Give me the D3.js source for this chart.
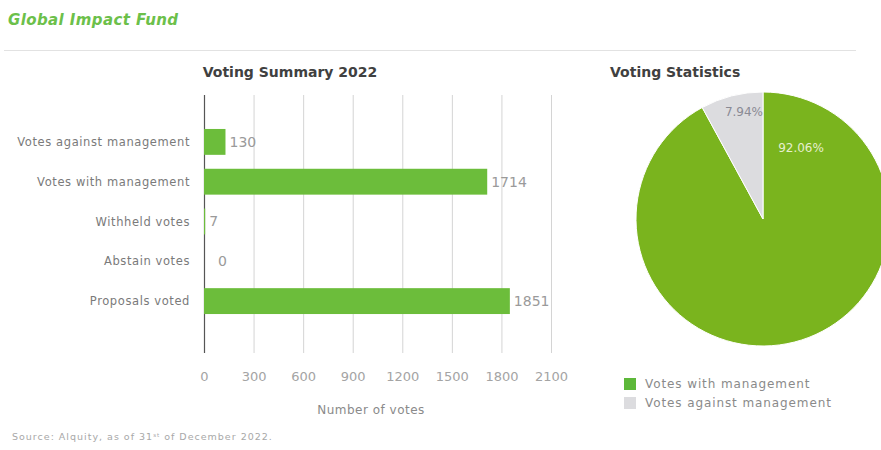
<!DOCTYPE html>
<html>
<head>
<meta charset="utf-8">
<script src="https://cdn.jsdelivr.net/npm/d3@7"></script>
<style>
  body { margin: 0; background: #fff; }
  svg { display: block; font-family: "DejaVu Sans", sans-serif; }
</style>
</head>
<body>
<script>
// data
const categories = ["Votes against management", "Votes with management", "Withheld votes", "Abstain votes", "Proposals voted"];
const votes = [130, 1714, 7, 0, 1851];
const xTicks = [0, 300, 600, 900, 1200, 1500, 1800, 2100];
const pieLabels = ["Votes with management", "Votes against management"];
const pieShares = [92.06, 7.94];

var width = 881, height = 450;
var barGreen = "#6cbd3b", pieGreen = "#7ab41e", pieGrey = "#dcdcdf";

var svg = d3.select("body").append("svg")
  .attr("width", width)
  .attr("height", height);

// header
svg.append("text")
  .attr("x", 8).attr("y", 25)
  .attr("fill", "#6cc04a")
  .attr("font-size", 15)
  .attr("font-weight", 700)
  .attr("font-style", "italic")
  .attr("letter-spacing", 0.4)
  .text("Global Impact Fund");

svg.append("line")
  .attr("x1", 4).attr("x2", 856)
  .attr("y1", 50.5).attr("y2", 50.5)
  .attr("stroke", "#e2e2e2");

// bar chart
var xScale = d3.scaleLinear().domain([0, 2100]).range([204, 551]);
var yScale = d3.scaleBand().domain(categories).range([122, 321])
  .paddingInner(0.35).paddingOuter(0.175);

svg.append("text")
  .attr("x", 290).attr("y", 77)
  .attr("text-anchor", "middle")
  .attr("fill", "#404040")
  .attr("font-size", 14)
  .attr("font-weight", 700)
  .text("Voting Summary 2022");

var grid = svg.append("g");
grid.selectAll("line")
  .data(xTicks)
  .join("line")
  .attr("x1", d => xScale(d) + 0.5).attr("x2", d => xScale(d) + 0.5)
  .attr("y1", 95).attr("y2", 353)
  .attr("stroke", d => d === 0 ? "#555" : "#d4d4d4")
  .attr("stroke-width", d => d === 0 ? 1.2 : 1);

var xAxis = d3.axisBottom(xScale).tickValues(xTicks).tickFormat(d3.format("d"))
  .tickSize(0).tickPadding(0);
var gx = svg.append("g").attr("transform", "translate(0,372)").call(xAxis);
gx.select(".domain").remove();
gx.selectAll("text")
  .attr("fill", "#a4a4a4")
  .attr("font-size", 13)
  .attr("font-family", "DejaVu Sans, sans-serif");

svg.append("text")
  .attr("x", 371).attr("y", 414)
  .attr("text-anchor", "middle")
  .attr("fill", "#8a8a8a")
  .attr("font-size", 12)
  .attr("letter-spacing", 0.5)
  .text("Number of votes");

svg.append("g").selectAll("text")
  .data(categories)
  .join("text")
  .attr("x", 190)
  .attr("y", d => yScale(d) + yScale.bandwidth() / 2)
  .attr("dy", "0.35em")
  .attr("text-anchor", "end")
  .attr("fill", "#7a7a7a")
  .attr("font-size", 11.5)
  .attr("letter-spacing", 0.6)
  .text(d => d);

svg.append("g").selectAll("rect")
  .data(votes)
  .join("rect")
  .attr("x", xScale(0))
  .attr("y", (d, i) => yScale(categories[i]))
  .attr("width", d => xScale(d) - xScale(0))
  .attr("height", yScale.bandwidth())
  .attr("fill", barGreen);

svg.append("g").selectAll("text")
  .data(votes)
  .join("text")
  .attr("x", d => xScale(d) + (d === 0 ? 14 : 4))
  .attr("y", (d, i) => yScale(categories[i]) + yScale.bandwidth() / 2)
  .attr("dy", "0.35em")
  .attr("fill", "#9a9a9a")
  .attr("font-size", 14)
  .text(d => d);

// pie chart
svg.append("text")
  .attr("x", 610).attr("y", 77)
  .attr("fill", "#404040")
  .attr("font-size", 14)
  .attr("font-weight", 700)
  .text("Voting Statistics");

var radius = 127;
var pie = d3.pie().sort(null);
var arc = d3.arc().innerRadius(0).outerRadius(radius);
var arcs = pie(pieShares);
var pieColor = d3.scaleOrdinal().domain(pieLabels).range([pieGreen, pieGrey]);

var gp = svg.append("g").attr("transform", "translate(763,219)");
gp.selectAll("path")
  .data(arcs)
  .join("path")
  .attr("d", arc)
  .attr("fill", (d, i) => pieColor(pieLabels[i]))
  .attr("stroke", "#fff")
  .attr("stroke-width", 1);

gp.selectAll("text")
  .data(arcs)
  .join("text")
  .attr("transform", (d, i) => {
    var c = i === 0 ? [38, -71] : [0, -107];
    return "translate(" + c + ")";
  })
  .attr("text-anchor", (d, i) => i === 0 ? "middle" : "end")
  .attr("dy", "0.35em")
  .attr("fill", (d, i) => i === 0 ? "#e6efcf" : "#8a8a94")
  .attr("font-size", 12)
  .text(d => d.data.toFixed(2) + "%");

// legend
var legend = svg.append("g").attr("transform", "translate(624,378)");
var li = legend.selectAll("g")
  .data(pieLabels)
  .join("g")
  .attr("transform", (d, i) => "translate(0," + i * 19 + ")");
li.append("rect")
  .attr("width", 12).attr("height", 12)
  .attr("fill", (d, i) => i === 0 ? "#5db83a" : pieGrey);
li.append("text")
  .attr("x", 21).attr("y", 6)
  .attr("dy", "0.35em")
  .attr("fill", "#8a8a8a")
  .attr("font-size", 12)
  .attr("letter-spacing", 0.9)
  .text(d => d);

// source
var src = svg.append("text")
  .attr("x", 12).attr("y", 440)
  .attr("fill", "#a8a8a8")
  .attr("font-size", 9.5)
  .attr("letter-spacing", 1);
src.append("tspan").text("Source: Alquity, as of 31");
src.append("tspan").attr("font-size", 5.5).attr("dy", -3).text("st");
src.append("tspan").attr("dy", 3).text(" of December 2022.");
</script>
</body>
</html>
